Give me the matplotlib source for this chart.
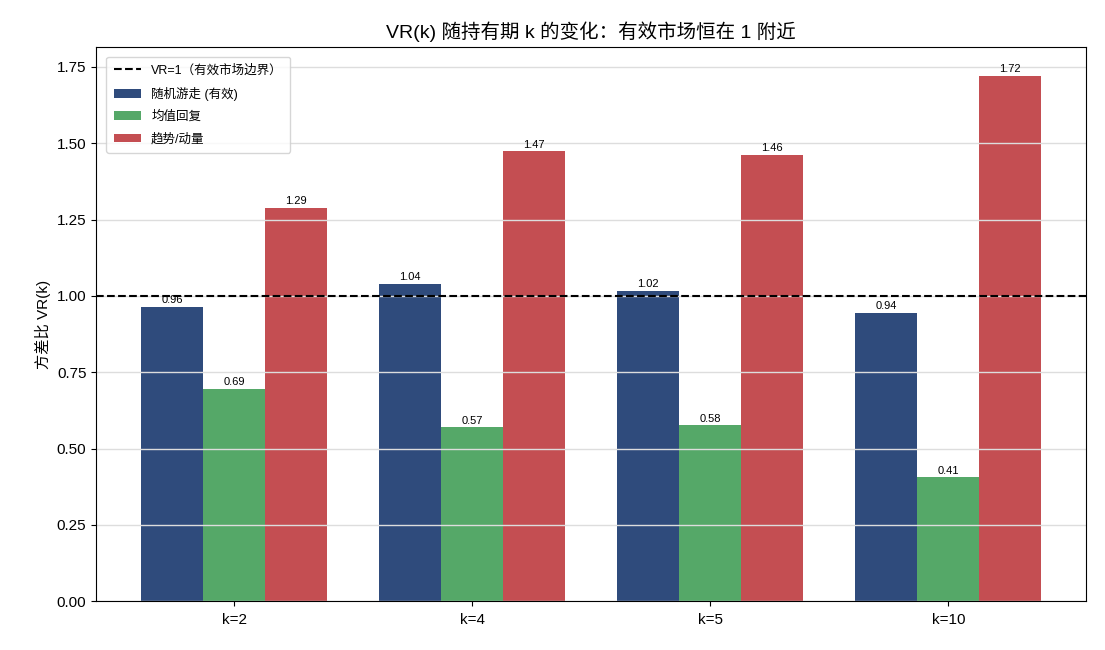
import numpy as np
import matplotlib
matplotlib.use("Agg")
import matplotlib.pyplot as plt

plt.rcParams['font.family'] = ['Liberation Sans', 'Noto Sans CJK SC', 'DejaVu Sans']
plt.rcParams['axes.unicode_minus'] = False

categories = ['k=2', 'k=4', 'k=5', 'k=10']
random_walk = [0.964, 1.039, 1.016, 0.944]
mean_revert = [0.695, 0.570, 0.577, 0.406]
trend = [1.288, 1.474, 1.462, 1.721]

series = [
    ('随机游走 (有效)', random_walk, '#2f4b7c'),
    ('均值回复', mean_revert, '#55a868'),
    ('趋势/动量', trend, '#c44e52'),
]

fig = plt.figure(figsize=(11.05, 6.5), dpi=100)
ax = fig.add_subplot()
fig.subplots_adjust(left=0.087, right=0.983, top=0.928, bottom=0.075)

x = np.arange(len(categories))
width = 0.26
for i, (name, vals, col) in enumerate(series):
    bars = ax.bar(x + (i - 1) * width, vals, width, label=name, color=col)
    for b, v in zip(bars, vals):
        ax.text(b.get_x() + b.get_width() / 2, v + 0.005, f'{v:.2f}',
                ha='center', va='bottom', fontsize=8)

ax.axhline(1.0, color='black', linestyle='--', linewidth=1.5, label='VR=1（有效市场边界）')

ax.set_xticks(x)
ax.set_xticklabels(categories, fontsize=11)
ax.tick_params(axis='x', pad=5)
ax.tick_params(axis='y', labelsize=11)
ax.set_ylabel('方差比 VR(k)', fontsize=11)
ax.set_title('VR(k) 随持有期 k 的变化：有效市场恒在 1 附近', fontsize=14, pad=6)
ax.set_ylim(0, max(trend) * 1.055)
ax.grid(axis='y', color='#dddddd', linewidth=1)

ax.legend(loc='upper left', fontsize=9, labelspacing=0.8, borderaxespad=0.8,
          borderpad=0.6, handlelength=2.2)

fig.savefig('out.png', dpi=100)
